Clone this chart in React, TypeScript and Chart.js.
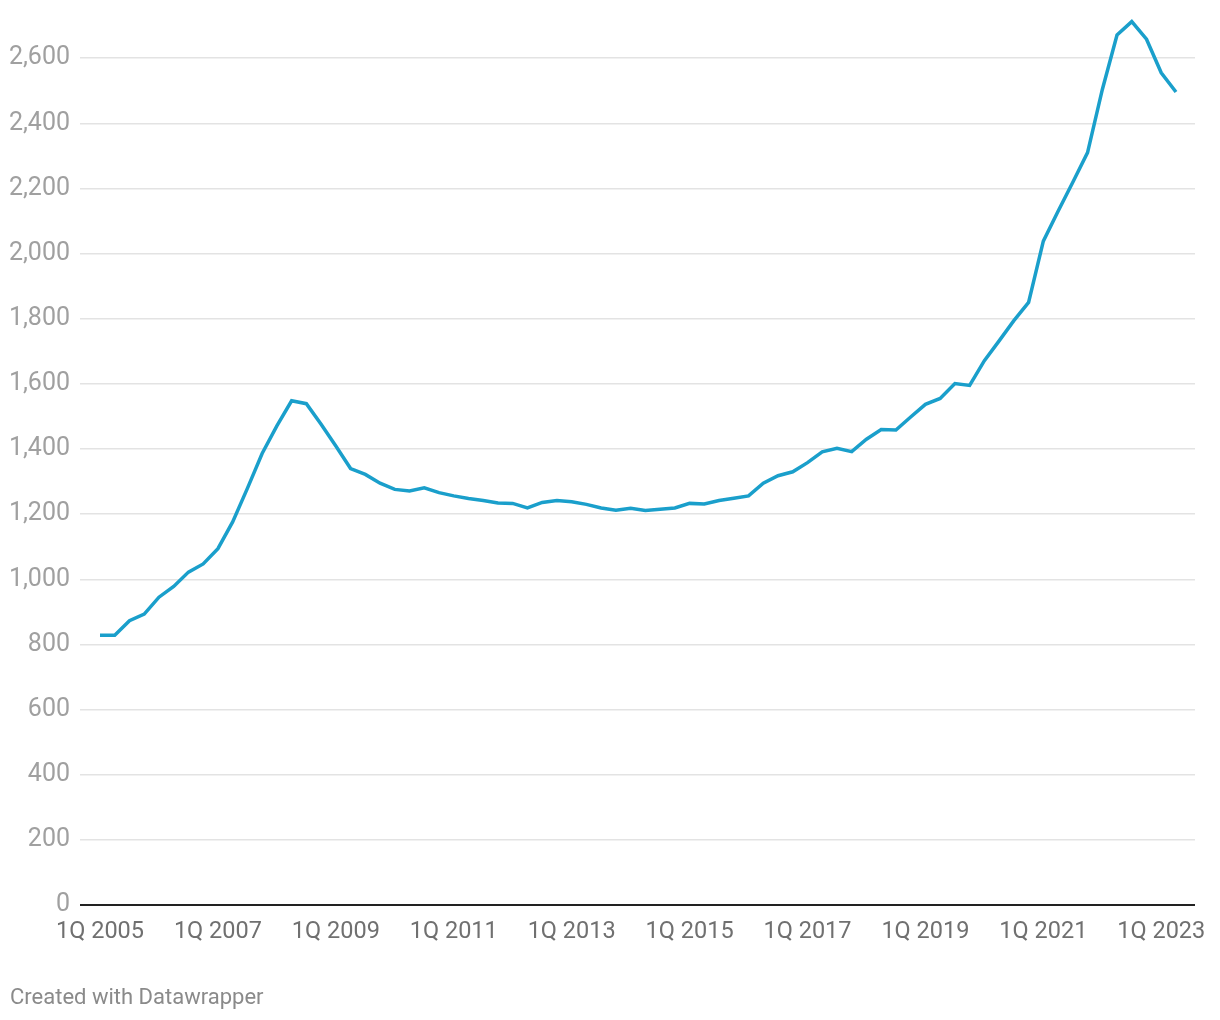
import React, { useEffect, useRef } from "react";
import { Chart, registerables } from "chart.js";

Chart.register(...registerables);

const quarters: string[] = [];
for (let y = 2005; y <= 2023; y++) {
  for (let q = 1; q <= 4; q++) {
    if (y === 2023 && q > 2) break;
    quarters.push(`${q}Q ${y}`);
  }
}

const values: number[] = [
  828, 828, 873, 893, 945, 978, 1022, 1047, 1094, 1176,
  1279, 1386, 1471, 1548, 1539, 1476, 1409, 1340, 1322, 1295,
  1276, 1271, 1281, 1266, 1256, 1248, 1242, 1234, 1233, 1219,
  1236, 1242, 1238, 1230, 1219, 1212, 1218, 1211, 1215, 1219,
  1233, 1231, 1242, 1249, 1256, 1295, 1318, 1330, 1358, 1391,
  1402, 1392, 1430, 1460, 1458, 1498, 1537, 1555, 1601, 1595,
  1671, 1732, 1794, 1850, 2038, 2130, 2219, 2310, 2503, 2671,
  2712, 2658, 2555, 2496,
];

const yTicks: number[] = [0, 200, 400, 600, 800, 1000, 1200, 1400, 1600, 1800, 2000, 2200, 2400, 2600];
const xTickIdx: number[] = [0, 8, 16, 24, 32, 40, 48, 56, 64, 72];

export default function App() {
  const ref = useRef<HTMLCanvasElement | null>(null);
  useEffect(() => {
    if (!ref.current) return;
    const chart = new Chart(ref.current, {
      type: "line",
      data: {
        datasets: [
          {
            data: values.map((v, i) => ({ x: i, y: v })),
            borderColor: "#1a9fcb",
            borderWidth: 3.5,
            pointRadius: 0,
            tension: 0,
            fill: false,
            clip: false,
          },
        ],
      },
      options: {
        animation: false,
        responsive: false,
        maintainAspectRatio: false,
        layout: { padding: { top: 10, right: 25, bottom: 0, left: 0 } },
        plugins: { legend: { display: false }, tooltip: { enabled: false } },
        scales: {
          x: {
            type: "linear",
            min: -1.357,
            max: 74.29,
            grid: { display: false, drawTicks: false },
            border: { display: false },
            afterBuildTicks: (s: any) => {
              s.ticks = xTickIdx.map((v) => ({ value: v }));
            },
            afterFit: (s: any) => {
              s.height = 115;
              s.paddingLeft = 0;
              s.paddingRight = 0;
            },
            ticks: {
              autoSkip: false,
              maxRotation: 0,
              padding: 13,
              color: "#707070",
              font: { family: "Roboto", size: 23.5 },
              callback: (v: any) => quarters[Number(v)] ?? "",
            },
          },
          y: {
            min: 0,
            max: 2747.7,
            afterBuildTicks: (s: any) => {
              s.ticks = yTicks.map((v) => ({ value: v }));
            },
            afterFit: (s: any) => {
              s.width = 80;
              s.paddingTop = 0;
              s.paddingBottom = 0;
            },
            border: { display: false },
            grid: {
              drawTicks: false,
              color: (c: any) => (c.tick && c.tick.value === 0 ? "#222222" : "#e3e3e3"),
              lineWidth: (c: any) => (c.tick && c.tick.value === 0 ? 2 : 1.5),
            },
            ticks: {
              padding: 10,
              color: "#a0a0a0",
              font: { family: "Roboto", size: 25 },
              callback: (v: any) => Number(v).toLocaleString("en-US"),
            },
          },
        },
      },
    });
    return () => chart.destroy();
  }, []);
  return (
    <div style={{ position: "absolute", left: 0, top: 0, width: 1220, height: 1020, background: "#fff" }}>
      <canvas ref={ref} width={1220} height={1020} style={{ display: "block", width: 1220, height: 1020 }} />
      <div
        style={{
          position: "absolute",
          left: 10,
          top: 984,
          fontFamily: "Roboto",
          fontSize: 22,
          lineHeight: "26px",
          color: "#8a8a8a",
          whiteSpace: "nowrap",
        }}
      >
        Created with Datawrapper
      </div>
    </div>
  );
}
